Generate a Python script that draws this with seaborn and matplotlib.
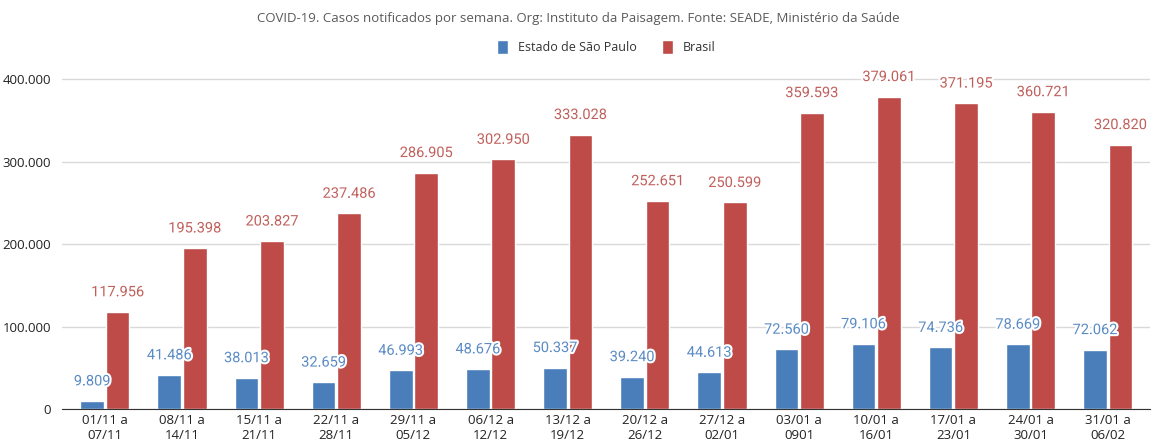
import matplotlib
matplotlib.use("Agg")
import matplotlib.pyplot as plt
import matplotlib.patheffects as pe
from matplotlib.ticker import FuncFormatter
import seaborn as sns
import pandas as pd

semanas = ["01/11 a\n07/11", "08/11 a\n14/11", "15/11 a\n21/11", "22/11 a\n28/11",
           "29/11 a\n05/12", "06/12 a\n12/12", "13/12 a\n19/12", "20/12 a\n26/12",
           "27/12 a\n02/01", "03/01 a\n0901", "10/01 a\n16/01", "17/01 a\n23/01",
           "24/01 a\n30/01", "31/01 a\n06/02"]
sao_paulo = [9809, 41486, 38013, 32659, 46993, 48676, 50337, 39240, 44613,
             72560, 79106, 74736, 78669, 72062]
brasil = [117956, 195398, 203827, 237486, 286905, 302950, 333028, 252651, 250599,
          359593, 379061, 371195, 360721, 320820]
series = ["Estado de São Paulo", "Brasil"]
cores = ["#4a7ebb", "#be4b48"]
cores_rotulo = ["#5b8bc5", "#c0605c"]

df = pd.DataFrame({
    "semana": semanas * 2,
    "serie": [series[0]] * len(semanas) + [series[1]] * len(semanas),
    "casos": sao_paulo + brasil,
})

sns.set_style("white")
plt.rcParams["font.family"] = ["Open Sans", "DejaVu Sans"]

fig = plt.figure(figsize=(11.57, 4.47), dpi=100)
ax = fig.add_axes([0.054, 0.085, 0.94, 0.756])

sns.barplot(data=df, x="semana", y="casos", hue="serie", palette=cores,
            saturation=1, width=0.66, gap=0.07, ax=ax, legend=True)

fmt = lambda v: f"{int(round(v)):,}".replace(",", ".")
for cont, cor in zip(ax.containers, cores_rotulo):
    ax.bar_label(cont, labels=[fmt(b.get_height()) for b in cont], padding=9,
                 color=cor, fontsize=10.5, family="Roboto",
                 path_effects=[pe.withStroke(linewidth=3, foreground="white")])

ax.set_ylim(0, 410000)
ax.set_yticks([0, 100000, 200000, 300000, 400000])
ax.yaxis.set_major_formatter(FuncFormatter(lambda v, p: fmt(v)))
ax.set_xlim(-0.55, len(semanas) - 0.45)
ax.grid(axis="y", color="#d9d9d9", linewidth=1)
ax.set_axisbelow(True)
for s in ["top", "right", "left"]:
    ax.spines[s].set_visible(False)
ax.spines["bottom"].set_color("#333333")
ax.tick_params(axis="both", length=0, labelsize=9.5, colors="#222222")
ax.tick_params(axis="y", pad=8)
ax.set_xlabel("")
ax.set_ylabel("")

leg = ax.legend(loc="center", bbox_to_anchor=(0.5, 1.07), ncol=2,
                frameon=False, fontsize=9, handlelength=0.9, handleheight=1.3,
                columnspacing=2.0, handletextpad=0.8)
for t in leg.get_texts():
    t.set_color("#333333")

fig.text(0.5, 0.958, "COVID-19. Casos notificados por semana. Org: Instituto da Paisagem. "
         "Fonte: SEADE, Ministério da Saúde", ha="center", va="center",
         fontsize=9.5, color="#5a5a5a")

fig.savefig("out.png", dpi=100)
